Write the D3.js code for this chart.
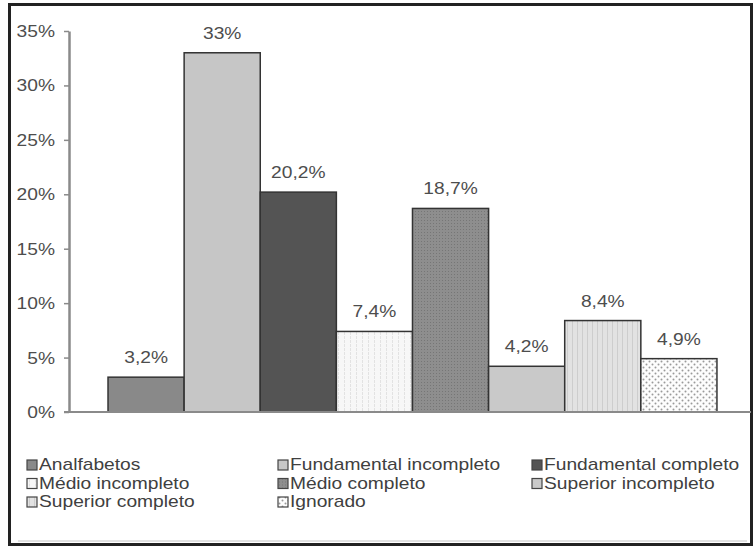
<!DOCTYPE html>
<html>
<head>
<meta charset="utf-8">
<script src="https://cdn.jsdelivr.net/npm/d3@7"></script>
<style>
  body { margin: 0; background: #fff; }
  text { font-family: "Liberation Sans", Arial, sans-serif; }
</style>
</head>
<body>
<div id="chart"></div>
<script>
const categories = ['Analfabetos', 'Fundamental incompleto', 'Fundamental completo', 'Médio incompleto',
    'Médio completo', 'Superior incompleto', 'Superior completo', 'Ignorado'];
const values = [3.2, 33, 20.2, 7.4, 18.7, 4.2, 8.4, 4.9];
const valueLabels = ['3,2%', '33%', '20,2%', '7,4%', '18,7%', '4,2%', '8,4%', '4,9%'];
const yTicks = [0, 5, 10, 15, 20, 25, 30, 35];

const width = 754;
const height = 547;
const stretch = 1.2; // text in the picture is drawn wider than normal

const svg = d3.select('#chart')
    .append('svg')
    .attr('width', width)
    .attr('height', height);

const defs = svg.append('defs');

// fill patterns, one per category
function solid(id, color) {
    defs.append('pattern').attr('id', id)
        .attr('width', 4).attr('height', 4).attr('patternUnits', 'userSpaceOnUse')
        .append('rect').attr('width', 4).attr('height', 4).attr('fill', color);
}
solid('p0', '#898989');
solid('p1', '#c6c6c6');
solid('p2', '#545454');
solid('p5', '#c9c9c9');

const p3 = defs.append('pattern').attr('id', 'p3')
    .attr('width', 6).attr('height', 4).attr('patternUnits', 'userSpaceOnUse');
p3.append('rect').attr('width', 6).attr('height', 4).attr('fill', '#f7f7f7');
p3.append('rect').attr('x', 2).attr('width', 1).attr('height', 3).attr('fill', '#e2e2e2');

const p4 = defs.append('pattern').attr('id', 'p4')
    .attr('width', 3).attr('height', 3).attr('patternUnits', 'userSpaceOnUse');
p4.append('rect').attr('width', 3).attr('height', 3).attr('fill', '#8e8e8e');
p4.append('rect').attr('x', 1).attr('y', 1).attr('width', 1).attr('height', 1).attr('fill', '#767676');

const p6 = defs.append('pattern').attr('id', 'p6')
    .attr('width', 5).attr('height', 5).attr('patternUnits', 'userSpaceOnUse');
p6.append('rect').attr('width', 5).attr('height', 5).attr('fill', '#e2e2e2');
p6.append('rect').attr('x', 2).attr('width', 1).attr('height', 5).attr('fill', '#cdcdcd');

const p7 = defs.append('pattern').attr('id', 'p7')
    .attr('width', 6).attr('height', 6).attr('patternUnits', 'userSpaceOnUse');
p7.append('rect').attr('width', 6).attr('height', 6).attr('fill', '#fdfdfd');
p7.append('circle').attr('cx', 1.5).attr('cy', 1.5).attr('r', 1).attr('fill', '#9a9a9a');
p7.append('circle').attr('cx', 4.5).attr('cy', 4.5).attr('r', 1).attr('fill', '#9a9a9a');

const fills = categories.map((c, i) => `url(#p${i})`);

// frame
svg.append('rect')
    .attr('x', 9.5).attr('y', 4.5)
    .attr('width', 742).attr('height', 540)
    .attr('fill', 'none')
    .attr('stroke', '#222')
    .attr('stroke-width', 3);

svg.append('line')
    .attr('x1', 18).attr('x2', 747)
    .attr('y1', 541).attr('y2', 541)
    .attr('stroke', '#c4c4c4');

const x = d3.scaleBand()
    .domain(categories)
    .range([69, 751])
    .paddingInner(0)
    .paddingOuter(0.48)
    .align(0.534);

const y = d3.scaleLinear()
    .domain([0, 35])
    .range([412, 31]);

// y axis
const yAxis = svg.append('g')
    .attr('transform', 'translate(69,0)')
    .call(d3.axisLeft(y)
        .tickValues(yTicks)
        .tickFormat(d => d + '%')
        .tickSize(5)
        .tickSizeOuter(0));

yAxis.select('.domain').attr('stroke', '#8a8a8a').attr('stroke-width', 2.5);
yAxis.selectAll('.tick line').attr('stroke', '#8a8a8a').attr('stroke-width', 1.5);
yAxis.selectAll('.tick text')
    .attr('x', 0)
    .attr('dy', null)
    .attr('dominant-baseline', 'central')
    .attr('transform', `translate(-14,0) scale(${stretch},1)`)
    .attr('fill', '#4d4d4d')
    .style('font-size', '16px');

// bars
svg.selectAll('.bar')
    .data(categories)
    .enter()
    .append('rect')
    .attr('class', 'bar')
    .attr('x', d => x(d))
    .attr('y', (d, i) => y(values[i]))
    .attr('width', x.bandwidth())
    .attr('height', (d, i) => y(0) - y(values[i]))
    .attr('fill', (d, i) => fills[i])
    .attr('stroke', '#333')
    .attr('stroke-width', 1.5);

// x baseline
svg.append('line')
    .attr('x1', 64).attr('x2', 751)
    .attr('y1', y(0)).attr('y2', y(0))
    .attr('stroke', '#8a8a8a')
    .attr('stroke-width', 2);

// value labels
svg.selectAll('.label')
    .data(categories)
    .enter()
    .append('text')
    .attr('class', 'label')
    .attr('transform', (d, i) => `translate(${x(d) + x.bandwidth() / 2},${y(values[i]) - 14}) scale(${stretch},1)`)
    .attr('text-anchor', 'middle')
    .attr('fill', '#4d4d4d')
    .style('font-size', '16px')
    .text((d, i) => valueLabels[i]);

// legend, 3 columns
const legendCols = [27, 278, 532];
const legend = svg.append('g');

categories.forEach((c, i) => {
    const lx = legendCols[i % 3];
    const ly = 465 + Math.floor(i / 3) * 18.5;
    const item = legend.append('g').attr('transform', `translate(${lx},${ly})`);
    item.append('rect')
        .attr('x', 0).attr('y', -5)
        .attr('width', 10).attr('height', 10)
        .attr('fill', fills[i])
        .attr('stroke', '#444')
        .attr('stroke-width', 1.2);
    item.append('text')
        .attr('transform', `translate(12,0) scale(${stretch},1)`)
        .attr('dominant-baseline', 'central')
        .attr('fill', '#404040')
        .style('font-size', '16px')
        .text(c);
});
</script>
</body>
</html>
